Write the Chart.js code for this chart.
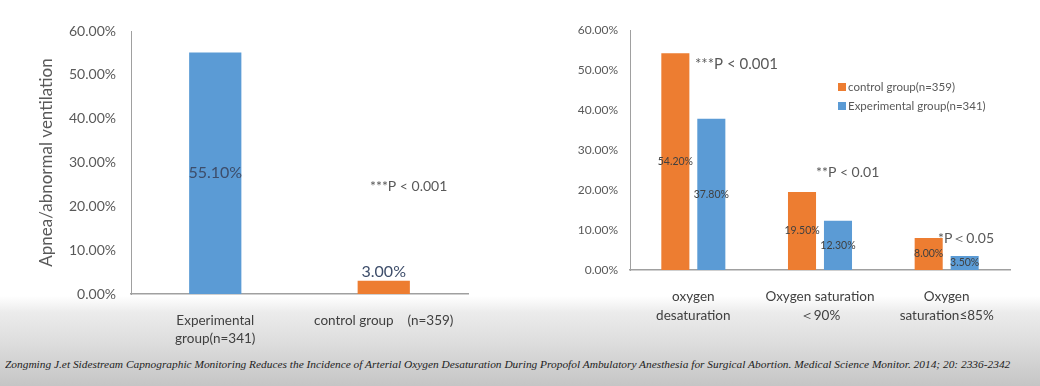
<!DOCTYPE html>
<html>
<head>
<meta charset="utf-8">
<script src="https://cdn.jsdelivr.net/npm/chart.js@4.4.0/dist/chart.umd.min.js"></script>
<style>
html, body { margin: 0; padding: 0; }
body {
    width: 1040px; height: 386px; overflow: hidden; position: relative;
    background: linear-gradient(to bottom, #fff 0, #fff 296px, #ececec 312px, #dcdcdc 345px, #c5c5c5 386px);
}
#leftChart { position: absolute; left: 0; top: 0; }
#rightChart { position: absolute; left: 520px; top: 0; }
#cite {
    position: absolute; left: 5px; top: 358px; white-space: nowrap;
    font: italic 11px "Liberation Serif", serif; color: #1e1e1e; transform-origin: left top;
}
</style>
</head>
<body>
<canvas id="leftChart" width="475" height="350"></canvas>
<canvas id="rightChart" width="520" height="350"></canvas>
<div id="cite">Zongming J.et Sidestream Capnographic Monitoring Reduces the Incidence of Arterial Oxygen Desaturation During Propofol Ambulatory Anesthesia for Surgical Abortion. Medical Science Monitor. 2014; 20: 2336-2342</div>
<script>
// left chart data
const leftCategories = [['Experimental', 'group(n=341)'], 'control group    (n=359)'];
const leftValues = [55.1, 3.0];
const leftColors = ['#5B9BD5', '#ED7D31'];

// right chart data
const rightCategories = [['oxygen', 'desaturation'], ['Oxygen saturation', '\uFF1C90%'], ['Oxygen', 'saturation\u226485%']];
const controlValues = [54.2, 19.5, 8.0];
const experimentalValues = [37.8, 12.3, 3.5];

const yMax = 60;
const yStep = 10;

const orange = '#ED7D31';
const blue = '#5B9BD5';
const axisGray = '#a0a0a0';

// value labels on the bars
const barLabels = {
    id: 'barLabels',
    afterDatasetsDraw(chart, args, opts) {
        var ctx = chart.ctx;
        ctx.save();
        ctx.font = opts.font;
        ctx.fillStyle = opts.color;
        ctx.textAlign = 'center';
        ctx.textBaseline = 'middle';
        chart.data.datasets.forEach(function (ds, i) {
            chart.getDatasetMeta(i).data.forEach(function (bar, j) {
                var h = bar.base - bar.y;
                var y = h < opts.minInside ? bar.y - 9 : (bar.y + bar.base) / 2;
                ctx.fillText(ds.data[j].toFixed(2) + '%', bar.x, y);
            });
        });
        ctx.restore();
    }
};

// p-value notes and the small legend
const notes = {
    id: 'notes',
    afterDraw(chart, args, opts) {
        var ctx = chart.ctx;
        ctx.save();
        ctx.textBaseline = 'middle';
        ctx.textAlign = 'left';
        (opts.items || []).forEach(function (n) {
            ctx.font = n.font;
            ctx.fillStyle = '#595959';
            ctx.fillText(n.text, n.x, n.y);
        });
        if (opts.legend) {
            var lg = opts.legend;
            ctx.font = lg.font;
            chart.data.datasets.forEach(function (ds, i) {
                var y = lg.y + i * lg.gap;
                ctx.fillStyle = ds.backgroundColor;
                ctx.fillRect(lg.x, y - 4, 8, 8);
                ctx.fillStyle = '#595959';
                ctx.fillText(ds.label, lg.x + 10, y);
            });
        }
        ctx.restore();
    }
};

function yAxis(width, fontSize, pad) {
    return {
        min: 0, max: yMax,
        afterFit: function (s) { s.width = width; },
        grid: { display: false, drawTicks: false },
        border: { display: true, color: axisGray, width: 1 },
        ticks: {
            stepSize: yStep, padding: pad, color: '#595959',
            font: { family: 'Lato', size: fontSize },
            callback: function (v) { return v.toFixed(2) + '%'; }
        }
    };
}

function xAxis(height, fontSize, lh) {
    return {
        afterFit: function (s) { s.height = height; },
        grid: { display: false, drawTicks: false },
        border: { display: true, color: axisGray, width: 1.5 },
        ticks: {
            padding: 18, color: '#404040', maxRotation: 0, autoSkip: false,
            font: { family: 'Lato', size: fontSize, lineHeight: lh }
        }
    };
}

var leftY = yAxis(131, 14, 15);
leftY.title = {
    display: true, text: 'Apnea/abnormal ventilation', color: '#595959',
    font: { family: 'Lato', size: 17 }, padding: { top: 36, bottom: 0 }
};

new Chart(document.getElementById('leftChart'), {
    type: 'bar',
    data: {
        labels: leftCategories,
        datasets: [{
            data: leftValues,
            backgroundColor: leftColors,
            categoryPercentage: 1,
            barPercentage: 0.31
        }]
    },
    plugins: [barLabels, notes],
    options: {
        responsive: false,
        animation: false,
        layout: { padding: { top: 31, right: 7, left: 0, bottom: 0 } },
        scales: { x: xAxis(56, 13.5, 1.3), y: leftY },
        plugins: {
            legend: { display: false },
            tooltip: { enabled: false },
            barLabels: { font: '16px Lato', color: '#3d4d6a', minInside: 30 },
            notes: { items: [{ text: '***P < 0.001', x: 370, y: 186, font: '14px Lato' }] }
        }
    }
});

new Chart(document.getElementById('rightChart'), {
    type: 'bar',
    data: {
        labels: rightCategories,
        datasets: [{
            label: 'control group(n=359)',
            data: controlValues,
            backgroundColor: orange,
            categoryPercentage: 0.568,
            barPercentage: 0.78
        }, {
            label: 'Experimental group(n=341)',
            data: experimentalValues,
            backgroundColor: blue,
            categoryPercentage: 0.568,
            barPercentage: 0.78
        }]
    },
    plugins: [barLabels, notes],
    options: {
        responsive: false,
        animation: false,
        layout: { padding: { top: 30, right: 30, left: 0, bottom: 0 } },
        scales: { x: xAxis(80, 13.5, 1.35), y: yAxis(110, 12, 12) },
        plugins: {
            legend: { display: false },
            tooltip: { enabled: false },
            barLabels: { font: '10.5px Lato', color: '#404040', minInside: 0 },
            notes: {
                items: [
                    { text: '***P < 0.001', x: 175, y: 64, font: '15px Lato' },
                    { text: '**P < 0.01', x: 296, y: 172, font: '14px Lato' },
                    { text: '*P\uFF1C0.05', x: 418, y: 238, font: '14px Lato' }
                ],
                legend: { x: 318, y: 87, gap: 19, font: '11.5px Lato' }
            }
        }
    }
});

var cite = document.getElementById('cite');
cite.style.transform = 'scaleX(' + (1005 / cite.offsetWidth) + ')';
</script>
</body>
</html>
